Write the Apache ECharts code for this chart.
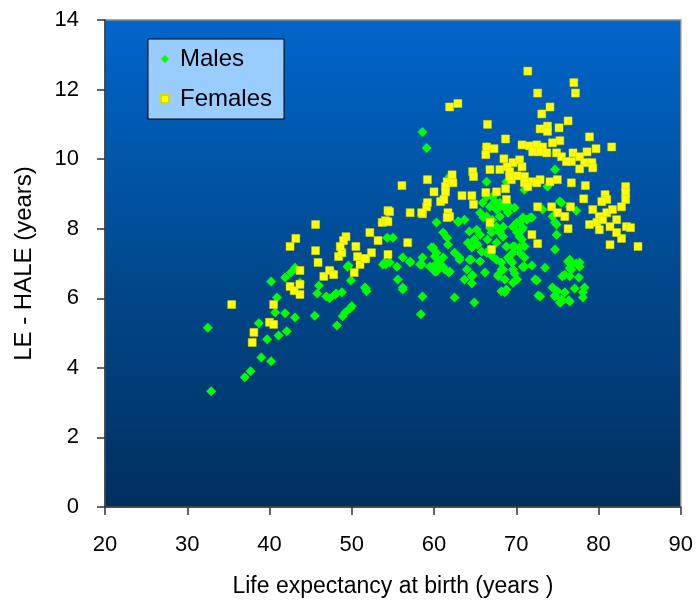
<!DOCTYPE html>
<html>
<head>
<meta charset="utf-8">
<script src="https://cdn.jsdelivr.net/npm/echarts@6/dist/echarts.min.js"></script>
<style>
	html, body { margin: 0; padding: 0; background: #fff; }
	#box { width: 696px; height: 603px; }
</style>
</head>
<body>
<div id="box"></div>
<script>
// [life expectancy at birth, LE - HALE]
var males = [
	[32.5, 5.15], [32.9, 3.33], [37.0, 3.73], [37.7, 3.9], [38.7, 5.28], [39.0, 4.3], [39.7, 4.82], [40.2, 4.19],
	[40.7, 5.59], [40.9, 6.02], [41.1, 4.93], [41.9, 5.57], [42.1, 5.05], [43.1, 5.45], [40.2, 6.48], [41.9, 6.6],
	[42.6, 6.74], [43.1, 6.88], [43.7, 6.45], [45.5, 5.5], [46.0, 6.37], [45.8, 6.14], [46.9, 6.05], [47.3, 6.0],
	[48.1, 6.14], [48.2, 5.22], [48.9, 5.48], [49.8, 5.71], [49.6, 6.94], [49.9, 6.51], [51.7, 6.28], [50.0, 5.77],
	[49.2, 5.59], [47.7, 6.74], [48.0, 6.11], [48.8, 6.17], [51.6, 6.31], [51.8, 6.2], [49.5, 6.91], [54.1, 6.97],
	[54.3, 7.74], [54.0, 7.03], [55.5, 6.91], [57.1, 7.03], [58.3, 6.97], [55.6, 6.54], [56.2, 6.31], [56.2, 6.25],
	[58.6, 6.05], [58.4, 5.54], [59.9, 6.91], [60.3, 6.77], [61.1, 6.91], [61.8, 6.74], [62.5, 6.02], [64.9, 5.88],
	[64.0, 6.83], [64.7, 6.66], [64.6, 6.43], [63.1, 7.11], [64.3, 7.11], [67.8, 6.68], [68.4, 6.83], [68.2, 6.2],
	[68.6, 6.17], [68.2, 7.03], [72.7, 6.08], [74.7, 6.08], [75.4, 5.88], [76.4, 5.94], [78.1, 6.02],
	[69.5, 7.03], [71.0, 6.91], [71.9, 6.94], [69.8, 6.71], [69.6, 6.45], [73.5, 6.88], [72.5, 6.51], [75.9, 6.68],
	[76.5, 6.86], [77.3, 7.0], [77.7, 7.03], [77.6, 6.6], [78.3, 6.31], [78.1, 6.17], [77.1, 6.28], [74.4, 6.31],
	[75.0, 6.2], [75.9, 6.17], [74.7, 6.05], [75.5, 5.97], [76.5, 5.91], [75.3, 5.88], [76.3, 7.06], [76.7, 6.97],
	[55.0, 7.74], [56.2, 7.17], [57.1, 7.06], [58.6, 7.17], [58.5, 6.97], [59.9, 7.46], [60.1, 7.2], [60.5, 7.03],
	[61.1, 7.17], [61.3, 6.83], [61.9, 6.77], [60.3, 8.18], [61.1, 7.89], [61.6, 7.74], [61.7, 7.54], [62.5, 7.31],
	[63.1, 7.17], [62.9, 8.2], [63.7, 8.26], [64.3, 7.92], [65.2, 7.97], [65.6, 7.83], [64.9, 7.69], [64.1, 7.6],
	[64.6, 7.46], [65.3, 7.54], [65.8, 7.34], [66.8, 7.4], [64.5, 7.11], [64.6, 6.63], [63.7, 6.54], [65.6, 8.46],
	[66.0, 8.32], [66.8, 8.03], [67.6, 8.06], [68.0, 7.92], [68.4, 7.77], [66.4, 8.92], [67.4, 8.78], [68.0, 8.63],
	[68.6, 8.6], [69.0, 8.46], [67.6, 7.11], [68.2, 6.83], [67.8, 6.63], [68.6, 6.54], [69.2, 7.11], [69.6, 6.83],
	[68.8, 6.25], [69.6, 7.31], [69.8, 7.49], [75.5, 8.75], [77.3, 8.52], [74.7, 8.18], [74.9, 7.83], [74.7, 7.4],
	[69.2, 8.63], [70.1, 8.18], [70.8, 8.32], [71.7, 8.32], [70.8, 8.03], [70.4, 7.77], [70.4, 7.46], [71.0, 7.17],
	[70.8, 6.91], [72.3, 6.54], [76.5, 7.11], [76.7, 6.83], [77.7, 6.91], [75.6, 6.63], [76.5, 6.63],
	[58.6, 10.78], [59.1, 10.32], [66.4, 10.35], [66.4, 9.35], [71.0, 9.12], [73.8, 9.21], [74.7, 9.7], [61.9, 9.5],
	[68.8, 9.35], [68.0, 8.75], [75.3, 8.78], [76.5, 8.63], [73.2, 8.55], [74.4, 8.35], [74.9, 8.12], [54.6, 7.03],
	[53.8, 6.97], [59.7, 7.46], [60.3, 7.31], [59.5, 6.91], [60.1, 6.77], [60.7, 6.91], [63.0, 8.2],
	[65.9, 8.75], [66.8, 8.63], [67.1, 8.92], [67.6, 8.55], [68.0, 8.35], [68.8, 8.63], [69.8, 8.6], [66.4, 8.35],
	[67.1, 8.26], [68.4, 8.06], [69.6, 8.06], [70.4, 8.18], [71.3, 8.26], [71.9, 8.32], [70.7, 7.97], [70.1, 7.89],
	[68.0, 7.89], [67.0, 7.89], [66.5, 7.69], [67.6, 7.6], [68.8, 7.49], [69.6, 7.49], [70.7, 7.69], [71.0, 7.49],
	[70.4, 7.31], [66.4, 7.31], [67.1, 7.2], [66.2, 6.74], [65.6, 7.06], [69.0, 7.17], [70.1, 6.54], [72.9, 6.05]
];
var females = [
	[35.4, 5.82], [37.9, 4.73], [38.1, 5.02], [40.0, 5.31], [40.5, 5.25], [40.5, 5.82], [42.5, 6.34], [43.0, 6.22],
	[43.7, 6.11], [43.7, 6.4], [43.7, 6.8], [42.5, 7.49], [43.2, 7.72], [45.6, 8.12], [45.6, 7.37], [45.9, 7.03],
	[46.6, 6.63], [47.3, 6.8], [47.8, 6.68], [48.4, 7.2], [48.8, 7.31], [49.3, 7.77], [49.0, 7.66], [50.5, 7.49],
	[50.7, 7.2], [51.0, 6.97], [51.7, 7.14], [52.4, 7.31], [52.2, 7.89], [53.2, 7.66], [53.7, 8.18], [54.4, 8.52],
	[50.3, 6.74], [54.1, 8.23], [54.4, 7.26], [48.6, 7.49], [51.6, 7.14], [54.6, 8.49], [54.4, 8.2], [56.8, 7.6],
	[57.1, 8.46], [56.1, 9.24], [59.2, 9.41], [58.6, 8.43], [59.1, 8.63], [58.5, 8.46], [60.0, 9.06], [61.6, 9.35],
	[62.3, 9.32], [59.2, 8.75], [60.8, 8.78], [61.2, 8.84], [61.7, 8.46], [61.9, 8.35], [61.6, 8.32], [61.4, 9.21],
	[61.4, 9.06], [62.2, 9.55], [63.4, 8.95], [64.6, 8.95], [64.8, 8.7], [64.7, 9.64], [64.8, 9.5], [66.3, 9.04],
	[66.8, 9.7], [67.6, 9.06], [68.7, 9.15], [68.8, 8.84], [62.9, 11.6], [61.9, 11.5], [66.5, 11.0], [66.8, 8.18],
	[67.0, 7.4], [71.4, 12.53], [77.0, 12.2], [77.2, 11.9], [72.6, 11.9], [74.1, 11.5], [73.1, 11.3], [76.3, 11.1],
	[75.2, 10.9], [73.8, 10.95], [73.8, 10.8], [72.9, 10.87], [78.9, 10.64], [81.6, 10.35], [79.7, 10.3], [68.7, 10.58],
	[75.3, 10.53], [66.4, 10.35], [70.7, 10.41], [71.6, 10.38], [72.5, 10.41], [73.2, 10.35], [72.9, 10.21], [72.0, 10.21],
	[73.7, 10.18], [74.4, 10.47], [74.9, 10.18], [75.5, 10.07], [66.3, 10.13], [67.3, 10.3], [68.5, 10.01], [69.6, 9.9],
	[70.4, 9.98], [70.7, 9.78], [76.9, 10.18], [76.7, 9.93], [76.1, 9.93], [78.6, 10.21], [77.7, 10.07], [78.3, 9.9],
	[79.2, 9.9], [79.3, 9.75], [77.7, 9.72], [68.0, 9.7], [68.9, 9.78], [69.2, 9.64], [69.4, 9.41], [71.0, 9.5],
	[71.9, 9.35], [72.9, 9.41], [74.1, 9.35], [75.0, 9.41], [76.7, 9.32], [78.4, 9.24], [78.2, 8.86], [72.6, 8.63],
	[74.3, 8.63], [75.0, 8.46], [75.9, 8.35], [76.6, 8.63], [76.3, 8.0], [71.9, 7.83], [72.6, 7.57], [80.8, 8.98],
	[81.0, 8.84], [80.4, 8.78], [83.3, 9.21], [83.3, 9.04], [83.3, 8.84], [79.3, 8.55], [80.1, 8.35], [79.8, 8.18],
	[80.5, 8.26], [81.0, 8.46], [81.7, 8.55], [82.8, 8.63], [82.2, 8.26], [81.4, 8.06], [80.1, 7.97], [78.9, 8.12],
	[83.4, 8.06], [83.9, 8.03], [82.8, 7.72], [81.4, 7.54], [84.8, 7.49], [82.2, 7.89], [71.0, 9.32], [71.4, 9.21],
	[72.5, 9.32], [70.1, 9.52], [69.2, 9.5]
];
var xTicks = [20, 90, 10];
var yTicks = [0, 14, 2];

var font = 'Liberation Sans, Arial, sans-serif';
var myChart = echarts.init(document.getElementById("box"));
var option = {
	animation: false,
	grid: {
		left: 105,
		top: 20,
		right: 15,
		bottom: 95,
		show: true,
		backgroundColor: new echarts.graphic.LinearGradient(0, 0, 0, 1, [
			{offset: 0, color: '#0066cc'},
			{offset: 0.5, color: '#004a90'},
			{offset: 1, color: '#002f5e'}
		]),
		borderColor: '#8c8c8c',
		borderWidth: 1.5
	},
	legend: {
		left: 148,
		top: 39,
		orient: 'vertical',
		backgroundColor: '#99ccff',
		borderColor: '#000',
		borderWidth: 1,
		padding: [8, 12, 8, 12],
		itemWidth: 8,
		itemHeight: 8,
		itemGap: 16,
		textStyle: {
			fontFamily: font,
			fontSize: 24,
			lineHeight: 24,
			padding: [0, 0, 0, 6],
			color: '#000'
		},
		data: ['Males', 'Females']
	},
	xAxis: {
		type: 'value',
		min: xTicks[0],
		max: xTicks[1],
		interval: xTicks[2],
		name: 'Life expectancy at birth (years )',
		nameLocation: 'middle',
		nameGap: 68,
		nameTextStyle: {fontFamily: font, fontSize: 23, color: '#000'},
		axisLine: {onZero: false, lineStyle: {color: '#333', width: 1.5}},
		axisTick: {show: true, inside: false, length: 8, lineStyle: {color: '#333', width: 1.5}},
		axisLabel: {margin: 27, fontFamily: font, fontSize: 22, color: '#000'},
		splitLine: {show: false}
	},
	yAxis: {
		type: 'value',
		min: yTicks[0],
		max: yTicks[1],
		interval: yTicks[2],
		name: 'LE - HALE (years)',
		nameLocation: 'middle',
		nameGap: 69,
		nameTextStyle: {fontFamily: font, fontSize: 24, color: '#000'},
		axisLine: {show: true, lineStyle: {color: '#333', width: 1.5}},
		axisTick: {show: true, inside: false, length: 8, lineStyle: {color: '#333', width: 1.5}},
		axisLabel: {margin: 26, fontFamily: font, fontSize: 22, color: '#000'},
		splitLine: {show: false}
	},
	series: [{
		name: 'Males',
		type: 'scatter',
		symbol: 'diamond',
		symbolSize: 10,
		itemStyle: {color: '#00ff00', opacity: 1},
		data: males
	}, {
		name: 'Females',
		type: 'scatter',
		symbol: 'rect',
		symbolSize: 8,
		itemStyle: {color: '#ffff00', borderColor: '#d8d800', borderWidth: 0.5, opacity: 1},
		data: females
	}]
};
myChart.clear();
myChart.setOption(option);
</script>
</body>
</html>
